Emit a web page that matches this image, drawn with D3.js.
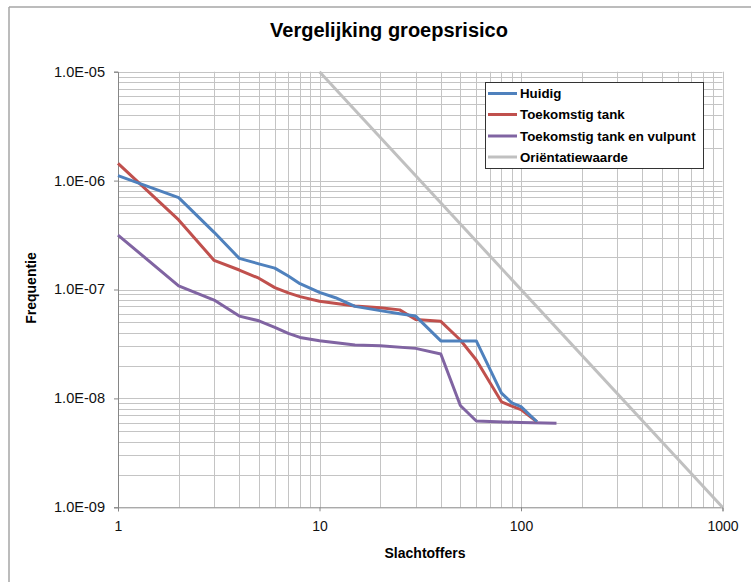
<!DOCTYPE html>
<html>
<head>
<meta charset="utf-8">
<script src="https://cdn.jsdelivr.net/npm/d3@7"></script>
<style>
  body { margin: 0; background: #fff; }
  text { font-family: "Liberation Sans", Arial, sans-serif; }
</style>
</head>
<body>
<div id="chart"></div>
<script>
// gelezen uit de grafiek
var huidigX = [1, 2, 3, 4, 5, 6, 7, 8, 10, 12, 15, 20, 25, 30, 40, 60, 80, 90, 100, 120];
var huidigY = [1.11e-6, 6.97e-7, 3.35e-7, 1.93e-7, 1.72e-7, 1.57e-7, 1.33e-7, 1.13e-7, 9.4e-8, 8.4e-8, 7.0e-8, 6.4e-8, 6.0e-8, 5.7e-8, 3.37e-8, 3.37e-8, 1.12e-8, 9.1e-9, 8.4e-9, 6.1e-9];

var tankX = [1, 2, 3, 4, 5, 6, 7, 8, 10, 15, 20, 25, 30, 40, 50, 60, 80, 90, 100, 120];
var tankY = [1.44e-6, 4.35e-7, 1.85e-7, 1.51e-7, 1.27e-7, 1.04e-7, 9.3e-8, 8.6e-8, 7.8e-8, 7.06e-8, 6.8e-8, 6.5e-8, 5.3e-8, 5.1e-8, 3.44e-8, 2.25e-8, 9.3e-9, 8.5e-9, 7.9e-9, 6.1e-9];

var vulpuntX = [1, 2, 3, 4, 5, 6, 7, 8, 10, 15, 20, 30, 40, 50, 60, 100, 150];
var vulpuntY = [3.16e-7, 1.08e-7, 8.0e-8, 5.7e-8, 5.16e-8, 4.5e-8, 3.96e-8, 3.63e-8, 3.39e-8, 3.09e-8, 3.05e-8, 2.88e-8, 2.56e-8, 8.6e-9, 6.2e-9, 6.0e-9, 5.9e-9];

var orientatieX = [10, 1000];
var orientatieY = [1e-5, 1e-9];

var seriesNames = ["Huidig", "Toekomstig tank", "Toekomstig tank en vulpunt", "Oriëntatiewaarde"];
var seriesColors = ["#4f81bd", "#c0504d", "#8064a2", "#c0c0c0"];

var xTicks = [1, 10, 100, 1000];
var yTicks = [1e-5, 1e-6, 1e-7, 1e-8, 1e-9];
var yTickLabels = ["1.0E-05", "1.0E-06", "1.0E-07", "1.0E-08", "1.0E-09"];

var width = 751, height = 582;
var plotLeft = 118, plotRight = 722.5, plotTop = 71.7, plotBottom = 507.3;

var svg = d3.select("#chart").append("svg")
    .attr("width", width)
    .attr("height", height);

// rand van het diagram
svg.append("line").attr("x1", 9).attr("x2", 9).attr("y1", 7).attr("y2", height)
    .style("stroke", "#a6a6a6").style("stroke-width", 1.5);
svg.append("line").attr("x1", 9).attr("x2", width).attr("y1", 7).attr("y2", 7)
    .style("stroke", "#a6a6a6").style("stroke-width", 1.5);

var x = d3.scaleLog().domain([1, 1000]).range([plotLeft, plotRight]);
var y = d3.scaleLog().domain([1e-9, 1e-5]).range([plotBottom, plotTop]);

// rasterlijnen
var xGrid = [], yGrid = [];
for (var d = 1; d < 1000; d *= 10) {
    for (var k = 2; k <= 10; k++) xGrid.push(d * k);
}
for (var p = -9; p < -5; p++) {
    for (var m = 2; m <= 10; m++) yGrid.push(m * Math.pow(10, p));
}

svg.append("g").selectAll("line").data(xGrid).enter().append("line")
    .attr("x1", function(v) { return Math.round(x(v)) + 0.5; })
    .attr("x2", function(v) { return Math.round(x(v)) + 0.5; })
    .attr("y1", plotTop).attr("y2", plotBottom)
    .style("stroke", "#c4c4c4").style("stroke-width", 1);

svg.append("g").selectAll("line").data(yGrid).enter().append("line")
    .attr("y1", function(v) { return Math.round(y(v)) + 0.5; })
    .attr("y2", function(v) { return Math.round(y(v)) + 0.5; })
    .attr("x1", plotLeft).attr("x2", plotRight)
    .style("stroke", "#c4c4c4").style("stroke-width", 1);

// assen
var yAxis = svg.append("g")
    .attr("transform", "translate(" + plotLeft + ",0)")
    .call(d3.axisLeft(y).tickValues(yTicks)
        .tickFormat(function(v, i) { return yTickLabels[i]; })
        .tickSize(4).tickPadding(9));

var xAxis = svg.append("g")
    .attr("transform", "translate(0," + plotBottom + ")")
    .call(d3.axisBottom(x).tickValues(xTicks)
        .tickFormat(d3.format("d")).tickSize(4).tickPadding(10));

[xAxis, yAxis].forEach(function(a) {
    a.select(".domain").style("stroke", "#868686");
    a.selectAll(".tick line").style("stroke", "#868686");
    a.selectAll("text")
        .style("font-family", '"Liberation Sans", Arial, sans-serif')
        .style("font-size", "14px")
        .style("fill", "#111");
});
yAxis.selectAll(".tick text")
    .attr("textLength", 51)
    .attr("lengthAdjust", "spacingAndGlyphs");

// lijnen
var line = d3.line()
    .x(function(q) { return x(q[0]); })
    .y(function(q) { return y(q[1]); });

var allSeries = [
    d3.zip(orientatieX, orientatieY),
    d3.zip(vulpuntX, vulpuntY),
    d3.zip(tankX, tankY),
    d3.zip(huidigX, huidigY)
];
var order = [3, 2, 1, 0];

svg.append("g").selectAll("path").data(allSeries).enter().append("path")
    .attr("d", line)
    .style("fill", "none")
    .style("stroke", function(s, i) { return seriesColors[order[i]]; })
    .style("stroke-width", 3)
    .style("stroke-linejoin", "round");

// titel en astitels
svg.append("text")
    .attr("x", 389).attr("y", 37)
    .attr("text-anchor", "middle")
    .style("font-size", "20px").style("font-weight", "bold")
    .text("Vergelijking groepsrisico");

svg.append("text")
    .attr("x", 425).attr("y", 558)
    .attr("text-anchor", "middle")
    .style("font-size", "14px").style("font-weight", "bold")
    .text("Slachtoffers");

svg.append("text")
    .attr("transform", "translate(36,288) rotate(-90)")
    .attr("text-anchor", "middle")
    .style("font-size", "14px").style("font-weight", "bold")
    .text("Frequentie");

// legenda
var legend = svg.append("g");
legend.append("rect")
    .attr("x", 485.5).attr("y", 82.5).attr("width", 218).attr("height", 86)
    .style("fill", "#fff").style("stroke", "#333").style("stroke-width", 1);

var rowY = [93.5, 114.5, 136, 157];
var items = legend.selectAll("g.item").data(seriesNames).enter().append("g")
    .attr("class", "item")
    .attr("transform", function(n, i) { return "translate(0," + rowY[i] + ")"; });

items.append("line")
    .attr("x1", 488).attr("x2", 517)
    .style("stroke", function(n, i) { return seriesColors[i]; })
    .style("stroke-width", 3);

items.append("text")
    .attr("x", 520).attr("dy", "0.35em")
    .style("font-size", "13.3px").style("font-weight", "bold")
    .text(function(n) { return n; });
</script>
</body>
</html>
